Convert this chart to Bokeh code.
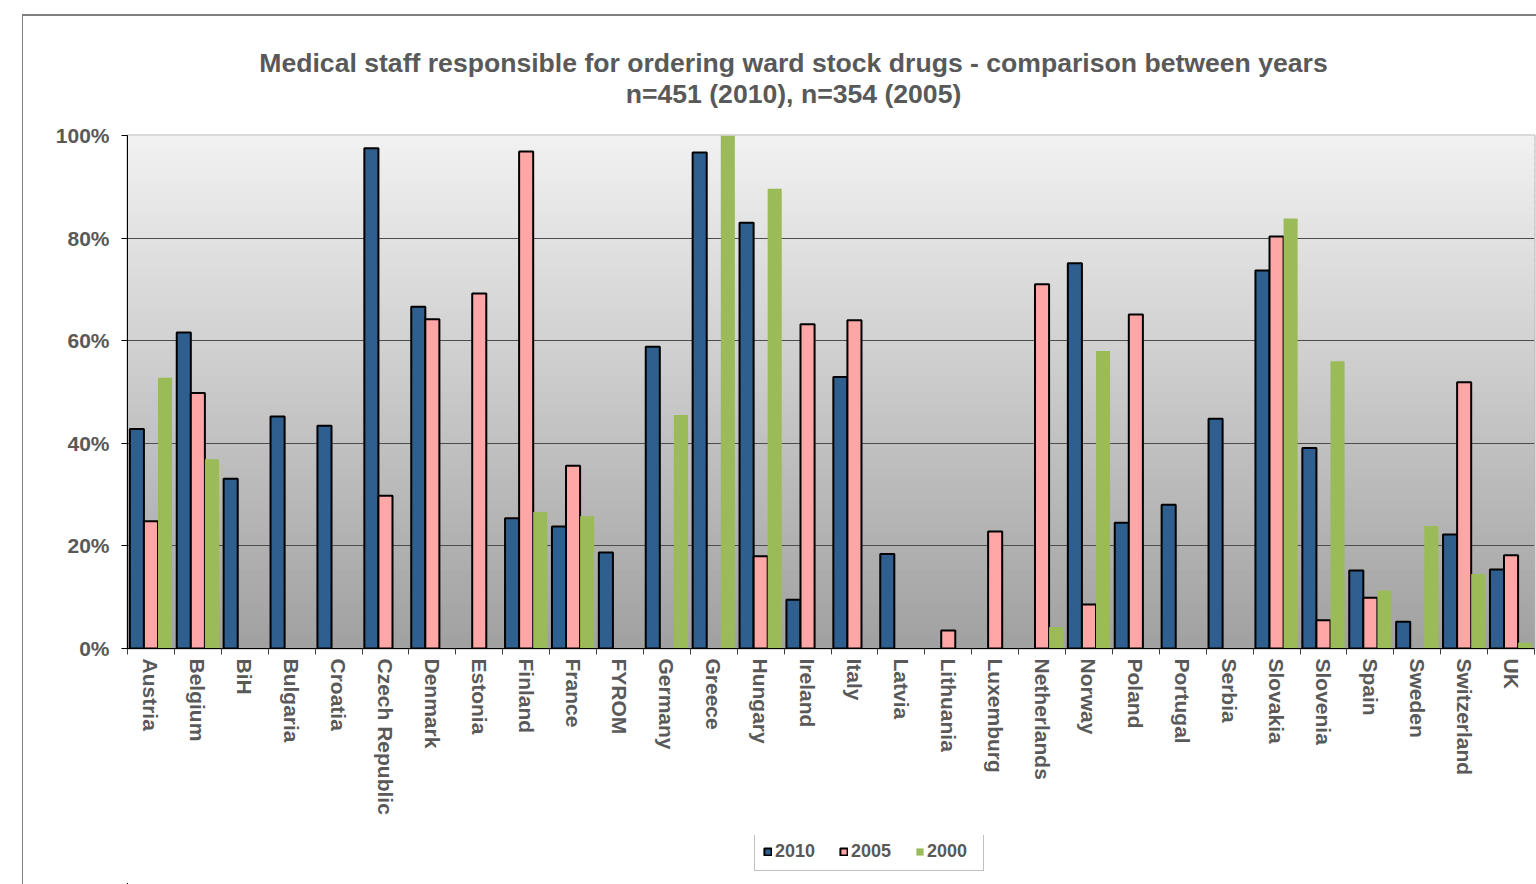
import numpy as np
from bokeh.plotting import figure
from bokeh.layouts import column
from bokeh.models import (Range1d, FixedTicker, NumeralTickFormatter, Label,
                          Legend, LegendItem)
from bokeh.embed import file_html
from bokeh.resources import INLINE

# ---------------- data ----------------
countries = ["Austria", "Belgium", "BiH", "Bulgaria", "Croatia", "Czech Republic",
             "Denmark", "Estonia", "Finland", "France", "FYROM", "Germany", "Greece",
             "Hungary", "Ireland", "Italy", "Latvia", "Lithuania", "Luxemburg",
             "Netherlands", "Norway", "Poland", "Portugal", "Serbia", "Slovakia",
             "Slovenia", "Spain", "Sweden", "Switzerland", "UK"]

v2010 = [42.8, 61.6, 33.1, 45.2, 43.4, 97.5, 66.6, None, 25.4, 23.8, 18.7, 58.8, 96.7,
         83.0, 9.5, 52.9, 18.4, None, None, None, 75.1, 24.5, 28.0, 44.8, 73.7,
         39.1, 15.2, 5.2, 22.2, 15.4]
v2005 = [24.8, 49.8, None, None, None, 29.8, 64.2, 69.2, 96.9, 35.6, None, None, None,
         18.0, 63.2, 64.0, None, 3.5, 22.8, 71.0, 8.6, 65.1, None, None, 80.3,
         5.5, 9.9, None, 51.9, 18.2]
v2000 = [52.8, 36.9, None, None, None, None, None, None, 26.6, 25.8, None, 45.5, 100.0,
         89.6, None, None, None, None, None, 4.2, 58.0, None, None, None, 83.8,
         56.0, 11.3, 23.9, 14.5, 1.1]

series_names = ["2010", "2005", "2000"]
y_ticks = [0, 0.2, 0.4, 0.6, 0.8, 1.0]

title1 = "Medical staff responsible for ordering ward stock drugs - comparison between years"
title2 = "n=451 (2010), n=354 (2005)"

# ---------------- styling ----------------
FONT = "Liberation Sans"
TXT = "#595959"
C2010 = "#2f5f8f"
C2005 = "#ffa6a6"
C2000 = "#9bbb59"
W = 1513
FL, FR = 127, 1534          # page x of the (aligned) plot frames

n = len(countries)
X0, X1 = -0.5, n - 0.5


def blank_fig(h, y0=0):
    f = figure(width=W, height=h, x_range=Range1d(FL, FR), y_range=Range1d(y0, y0 + h),
               output_backend="svg", toolbar_location=None, title=None,
               x_axis_location=None, y_axis_location=None, min_border=0)
    for g in f.grid:
        g.visible = False
    f.outline_line_color = None
    f.background_fill_color = "white"
    f.border_fill_color = "white"
    return f


# ---------------- title block ----------------
tf = blank_fig(107)
for txt, yb in [(title1, 61), (title2, 30)]:
    tf.add_layout(Label(x=793, y=yb, text=txt, text_align="center",
                        text_baseline="alphabetic", text_font=FONT,
                        text_font_size="26.6px", text_font_style="bold",
                        text_color=TXT))

# ---------------- main chart ----------------
p = figure(width=W, height=712, x_range=Range1d(X0, X1), y_range=Range1d(0, 1),
           output_backend="svg", toolbar_location=None, title=None,
           min_border_left=104, min_border_right=2, min_border_top=12,
           min_border_bottom=187)
p.border_fill_color = "white"
p.background_fill_color = "#c8c8c8"
p.outline_line_color = "#b3b3b3"
p.outline_line_width = 2

# gradient plot-area background
N = 80
ys = np.linspace(0, 1, N + 1)
cols = []
for k in range(N):
    yc = (ys[k] + ys[k + 1]) / 2
    g = int(round(160 + (242 - 160) * yc))
    cols.append("#%02x%02x%02x" % (g, g, g))
bg = p.quad(left=X0 - 1, right=X1 + 1, bottom=ys[:-1], top=ys[1:],
            fill_color=cols, line_color=cols, line_width=1)
bg.level = "image"

p.xgrid.visible = False
p.ygrid.ticker = FixedTicker(ticks=[0.2, 0.4, 0.6, 0.8])
p.ygrid.grid_line_color = "#4d4d4d"
p.ygrid.grid_line_width = 1

width = 0.3
specs = [(v2010, -0.3, C2010, "black"), (v2005, 0.0, C2005, "black"),
         (v2000, 0.3, C2000, None)]
bar_data = []
for vals, off, col, lc in specs:
    xs = [i + off for i, v in enumerate(vals) if v is not None]
    tops = [v / 100 for v in vals if v is not None]
    bar_data.append((xs, tops))
    p.vbar(x=xs, top=tops, bottom=0, width=width, fill_color=col,
           line_color=lc, line_width=2)

ya = p.yaxis[0]
ya.ticker = FixedTicker(ticks=y_ticks)
ya.formatter = NumeralTickFormatter(format="0%")
ya.minor_tick_line_color = None
ya.major_tick_in = 0
ya.major_tick_out = 6
ya.major_tick_line_color = "black"
ya.axis_line_color = "black"
ya.major_label_standoff = 12
ya.major_label_text_font = FONT
ya.major_label_text_font_size = "21px"
ya.major_label_text_font_style = "bold"
ya.major_label_text_color = TXT

xa = p.xaxis[0]
xa.ticker = FixedTicker(ticks=list(range(n)), minor_ticks=[i - 0.5 for i in range(n + 1)])
xa.major_label_overrides = {i: c for i, c in enumerate(countries)}
xa.major_label_orientation = "vertical"
xa.major_tick_in = 0
xa.major_tick_out = 0
xa.minor_tick_in = 0
xa.minor_tick_out = 6
xa.minor_tick_line_color = "#404040"
xa.axis_line_color = "black"
xa.major_label_standoff = 4
xa.major_label_text_font = FONT
xa.major_label_text_font_size = "21px"
xa.major_label_text_font_style = "bold"
xa.major_label_text_color = TXT

# ---------------- legend block ----------------
# legend-only copies of the bar renderers (their values lie outside this strip's ranges)
lf = blank_fig(49, y0=10)
leg_renderers = []
for (xs, tops), (vals, off, col, lc) in zip(bar_data, specs):
    leg_renderers.append(lf.vbar(x=xs, top=tops, bottom=0, width=width, fill_color=col,
                                 line_color=lc, line_width=2))
legend = Legend(items=[LegendItem(label=s, renderers=[r]) for s, r in zip(series_names, leg_renderers)],
                orientation="horizontal", location=(754 - FL, 13),
                border_line_color="#7f7f7f", border_line_width=1,
                background_fill_color="white", background_fill_alpha=1,
                label_text_font=FONT, label_text_font_size="18px",
                label_text_font_style="bold", label_text_color=TXT,
                glyph_width=9, glyph_height=9, label_standoff=3, label_width=48,
                spacing=16, padding=8, margin=0)
lf.add_layout(legend, "center")

layout = column(tf, p, lf, spacing=0)
layout.styles = {"margin-left": "22px", "margin-top": "14px",
                 "border-top": "2px solid #808080", "border-left": "1px solid #808080"}

open("out.html", "w").write(file_html(layout, INLINE))
